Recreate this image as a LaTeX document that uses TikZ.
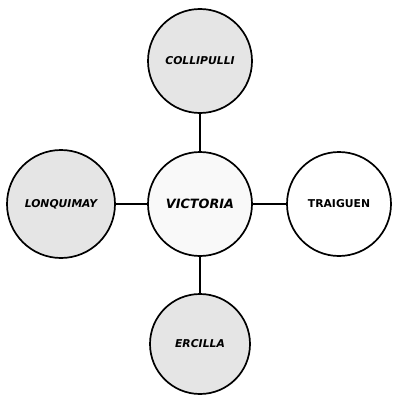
\documentclass[tikz,border=0pt]{standalone}
\usepackage{fontspec}
\setmainfont{DejaVu Sans}
\begin{document}
\begin{tikzpicture}[x=1pt,y=-1pt,
  city/.style={circle,draw=black,line width=1.7pt,minimum size=104pt,inner sep=0pt,font=\bfseries\itshape\fontsize{10.8}{12}\selectfont},
  dotted fill/.style={fill=gray!20},
  light fill/.style={fill=gray!5},
  link/.style={line width=1.6pt}]
\useasboundingbox (0,0) rectangle (392,396);
\node[city,light fill,font=\bfseries\itshape\fontsize{12.8}{14}\selectfont] (vic) at (200,204) {VICTORIA};
\node[city,dotted fill] (col) at (200,61) {COLLIPULLI};
\node[city,dotted fill,minimum size=108pt] (lon) at (61,204) {LONQUIMAY};
\node[city,fill=white,font=\bfseries\fontsize{10.8}{12}\selectfont] (tra) at (339,204) {TRAIGUEN};
\node[city,dotted fill,minimum size=100pt] (erc) at (200,344) {ERCILLA};
\draw[link] (col) -- (vic);
\draw[link] (vic) -- (erc);
\draw[link] (lon) -- (vic);
\draw[link] (vic) -- (tra);
\end{tikzpicture}
\end{document}
